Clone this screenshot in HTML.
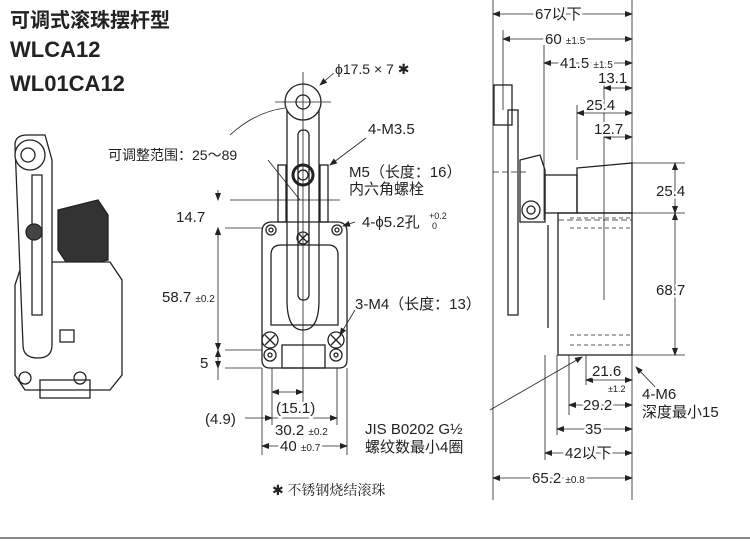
<!DOCTYPE html>
<html><head><meta charset="utf-8"><style>
body{margin:0;background:#fff;width:750px;height:541px;overflow:hidden}
svg{display:block}
text{font-family:"Liberation Sans","Noto Sans CJK SC",sans-serif;fill:#222;paint-order:stroke;stroke:#fff;stroke-width:5px;stroke-linejoin:round}
</style></head><body>
<svg width="750" height="541" viewBox="0 0 750 541">
<defs>
<marker id="a" markerWidth="8" markerHeight="6" refX="7" refY="3" orient="auto-start-reverse" markerUnits="userSpaceOnUse"><path d="M0,0 L8,3 L0,6z" fill="#222"/></marker>
</defs>
<text x="10" y="27" font-size="20" font-weight="bold">可调式滚珠摆杆型</text>
<text x="10" y="57" font-size="22" font-weight="bold">WLCA12</text>
<text x="10" y="91" font-size="22" font-weight="bold">WL01CA12</text>

<!-- photo -->
<g stroke="#222" fill="none" stroke-width="1.3">
<path d="M58,210 L98,200 L108,215 L108,260 L70,268 L58,250z" fill="#333"/>
<path d="M20,270 L40,262 L110,262 L122,280 L122,375 L110,390 L25,390 L15,375 L15,285z" fill="#fff"/>
<path d="M15,145 Q15,135 27,135 L45,135 L52,160 L52,345 Q52,358 38,358 Q23,358 23,345z" fill="#fff"/>
<path d="M32,175 L42,175 L42,315 L32,315z"/>
<circle cx="30" cy="155" r="15" fill="#fff"/><circle cx="28" cy="155" r="7"/>
<circle cx="34" cy="232" r="8" fill="#444"/>
<rect x="60" y="330" width="14" height="12"/>
<circle cx="25" cy="378" r="6"/><circle cx="80" cy="378" r="6"/>
<rect x="40" y="380" width="50" height="18"/>
</g>
<text x="108" y="160" font-size="14">可调整范围：25～89</text>

<!-- front view -->
<g stroke="#222" fill="none" stroke-width="1.3">
<path d="M262,232 Q262,222 272,222 L337,222 Q347,222 347,232 L347,360 Q347,368 339,368 L270,368 Q262,368 262,360z"/>
<path d="M271,255 Q271,245 281,245 L328,245 Q338,245 338,255 L338,325 L271,325z"/>
<rect x="282" y="345" width="43" height="23"/>
<path d="M287,102 L287,300 Q287,330 303,330 Q319,330 319,300 L319,102"/>
<rect x="298" y="130" width="11" height="170" rx="5"/>
<circle cx="303" cy="102" r="18" fill="#fff"/><circle cx="303" cy="102" r="7"/>
<rect x="278" y="165" width="8" height="57"/><rect x="320" y="165" width="8" height="57"/>
<circle cx="303" cy="175" r="10" stroke-width="3"/><circle cx="303" cy="175" r="5"/>
<circle cx="303" cy="238" r="6"/><path d="M299,234 L307,242 M307,234 L299,242"/>
<circle cx="271" cy="230" r="5"/><circle cx="337" cy="230" r="5"/>
<circle cx="271" cy="230" r="2"/><circle cx="337" cy="230" r="2"/>
<circle cx="270" cy="340" r="8"/><path d="M265,335 L275,345 M275,335 L265,345"/>
<circle cx="336" cy="340" r="8"/><path d="M331,335 L341,345 M341,335 L331,345"/>
<circle cx="270" cy="355" r="6"/><circle cx="336" cy="355" r="6"/>
<circle cx="270" cy="355" r="2"/><circle cx="336" cy="355" r="2"/>
</g>
<g stroke="#222" fill="none" stroke-width="0.8">
<path d="M303,72 L303,405 M275,102 L331,102"/>
<path d="M230,200 L340,200 M225,228 L262,228 M225,350 L262,350 M225,368 L262,368"/>
<path d="M262,368 L262,455 M347,368 L347,455 M272,368 L272,425 M337,368 L337,425"/>
<path d="M218,190 L218,200" marker-end="url(#a)"/><path d="M218,238 L218,228" marker-end="url(#a)"/>
<path d="M218,228 L218,350" marker-start="url(#a)" marker-end="url(#a)"/>
<path d="M218,350 L218,368" marker-start="url(#a)" marker-end="url(#a)"/>
<path d="M218,368 L218,380"/>
<path d="M272,392 L303,392" marker-start="url(#a)" marker-end="url(#a)"/>
<path d="M245,418 L272,418" marker-end="url(#a)"/>
<path d="M272,418 L337,418" marker-end="url(#a)"/>
<path d="M262,446 L347,446" marker-start="url(#a)" marker-end="url(#a)"/>
<path d="M230,135 Q255,112 285,108"/>
<path d="M335,72 L320,85" marker-end="url(#a)"/>
<path d="M366,138 L330,165" marker-end="url(#a)"/>
<path d="M355,222 L343,226" marker-end="url(#a)"/>
<path d="M358,305 L340,335" marker-end="url(#a)"/>
<path d="M268,160 L300,200"/>
</g>
<text x="335" y="74" font-size="14">ϕ17.5 × 7 ✱</text>
<text x="368" y="134" font-size="15">4-M3.5</text>
<text x="349" y="177" font-size="15">M5（长度：16）</text>
<text x="349" y="194" font-size="15">内六角螺栓</text>
<text x="362" y="227" font-size="15">4-ϕ5.2孔</text>
<text x="429" y="219" font-size="9">+0.2</text><text x="432" y="229" font-size="9">0</text>
<text x="355" y="309" font-size="15">3-M4（长度：13）</text>
<text x="176" y="222" font-size="15">14.7</text>
<text x="162" y="302" font-size="15">58.7 <tspan font-size="10">±0.2</tspan></text>
<text x="200" y="368" font-size="15">5</text>
<text x="276" y="413" font-size="15">(15.1)</text>
<text x="205" y="424" font-size="15">(4.9)</text>
<text x="275" y="435" font-size="15">30.2 <tspan font-size="10">±0.2</tspan></text>
<text x="280" y="451" font-size="15">40 <tspan font-size="10">±0.7</tspan></text>
<text x="365" y="434" font-size="15">JIS B0202 G½</text>
<text x="365" y="452" font-size="15">螺纹数最小4圈</text>
<text x="272" y="495" font-size="14" style="font-family:'Noto Serif CJK SC',serif">✱ 不锈钢烧结滚珠</text>

<!-- side view -->
<g stroke="#222" fill="none" stroke-width="1.3">
<path d="M577,168 L632,163 L632,213 L577,213z"/>
<rect x="558" y="213" width="74" height="142"/>
<rect x="508" y="110" width="10" height="205"/>
<rect x="494" y="85" width="18" height="40"/>
<path d="M520,160 L540,155 L545,170 L545,222 L520,222z"/>
<rect x="545" y="175" width="32" height="38"/>
<circle cx="531" cy="210" r="9"/><circle cx="531" cy="210" r="4"/>
<path d="M548,225 L548,328"/>
</g>
<g stroke="#222" fill="none" stroke-width="0.8">
<path d="M493,0 L493,500 M632,0 L632,500"/>
<path d="M503,30 L503,110 M544,45 L544,220 M604,80 L604,300 M577,105 L577,160"/>
<path d="M632,163 L685,163 M632,213 L685,213 M632,355 L685,355"/>
<path d="M586,355 L586,385 M569,355 L569,415 M557,355 L557,435 M545,355 L545,460"/>
<path d="M493,14 L632,14" marker-start="url(#a)" marker-end="url(#a)"/>
<path d="M503,39 L632,39" marker-start="url(#a)" marker-end="url(#a)"/>
<path d="M544,63 L632,63" marker-start="url(#a)" marker-end="url(#a)"/>
<path d="M604,88 L632,88" marker-start="url(#a)" marker-end="url(#a)"/>
<path d="M577,113 L632,113" marker-start="url(#a)" marker-end="url(#a)"/>
<path d="M604,137 L632,137" marker-start="url(#a)" marker-end="url(#a)"/>
<path d="M675,163 L675,213" marker-start="url(#a)" marker-end="url(#a)"/>
<path d="M675,213 L675,355" marker-start="url(#a)" marker-end="url(#a)"/>
<path d="M586,380 L632,380" marker-start="url(#a)" marker-end="url(#a)"/>
<path d="M569,405 L632,405" marker-start="url(#a)" marker-end="url(#a)"/>
<path d="M557,429 L632,429" marker-start="url(#a)" marker-end="url(#a)"/>
<path d="M545,453 L632,453" marker-start="url(#a)" marker-end="url(#a)"/>
<path d="M493,478 L632,478" marker-start="url(#a)" marker-end="url(#a)"/>
<path d="M660,392 L636,367" marker-end="url(#a)"/>
<path d="M490,410 L582,357" marker-end="url(#a)"/>
<path d="M493,172 L528,172 M558,220 L632,220" stroke-dasharray="6,3"/>
<path d="M570,218 L632,218 M570,228 L632,228 M570,345 L632,345 M570,335 L632,335" stroke-dasharray="4,3"/>
</g>
<text x="535" y="19" font-size="15">67以下</text>
<text x="545" y="44" font-size="15">60 <tspan font-size="10">±1.5</tspan></text>
<text x="560" y="68" font-size="15">41.5 <tspan font-size="10">±1.5</tspan></text>
<text x="598" y="83" font-size="15">13.1</text>
<text x="586" y="110" font-size="15">25.4</text>
<text x="594" y="134" font-size="15">12.7</text>
<text x="656" y="196" font-size="15">25.4</text>
<text x="656" y="295" font-size="15">68.7</text>
<text x="592" y="376" font-size="15">21.6</text>
<text x="608" y="392" font-size="9">±1.2</text>
<text x="583" y="410" font-size="15">29.2</text>
<text x="585" y="434" font-size="15">35</text>
<text x="565" y="458" font-size="15">42以下</text>
<text x="532" y="483" font-size="15">65.2 <tspan font-size="10">±0.8</tspan></text>
<text x="642" y="399" font-size="15">4-M6</text>
<text x="642" y="417" font-size="15">深度最小15</text>
<rect x="0" y="537" width="750" height="2" fill="#888"/>
</svg>
</body></html>
